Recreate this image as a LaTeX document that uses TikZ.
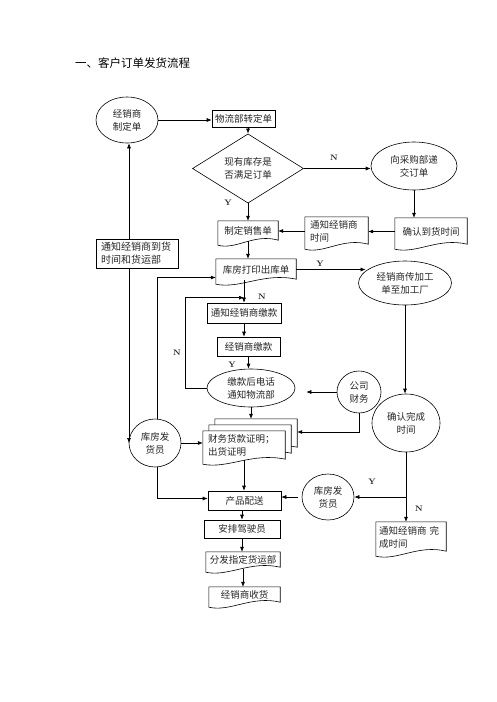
\documentclass[tikz,border=0pt]{standalone}
\usepackage{fontspec}
\newfontfamily\cjk{Noto Sans CJK SC}
\usetikzlibrary{arrows.meta,shapes.geometric,calc}
\pgfdeclarelayer{bg}
\pgfsetlayers{bg,main}
\newcommand\mydocshape[3]{%
 \draw[ln, fill=white] ($(#1.south west)+(#2,#3+4)$) -- ($(#1.north west)+(#2,#3)$) -- ($(#1.north east)+(#2,#3)$) -- ($(#1.south east)+(#2,#3-1)$) .. controls ($(#1.south east)!0.4!(#1.south west)+(#2,#3-8)$) and ($(#1.south east)!0.7!(#1.south west)+(#2,#3+9)$) .. ($(#1.south west)+(#2,#3+4)$) -- cycle;}
\begin{document}
\begin{tikzpicture}[x=1pt,y=-1pt,
  base/.style={font=\cjk\fontsize{9.5}{13}\selectfont, text=black!85, inner sep=0pt, align=center},
  box/.style={base, draw, line width=0.6pt},
  ell/.style={base, draw, ellipse, line width=0.6pt},
  lbox/.style={base, align=left, inner xsep=5pt},
  lab/.style={font=\fontsize{8}{8}\selectfont\bfseries, inner sep=0pt, text=black!85},
  arr/.style={-{Latex[length=5pt,width=4pt]}, line width=0.6pt},
  ln/.style={line width=0.6pt}]
\useasboundingbox (0,0) rectangle (496,702);

\node[font=\cjk\fontsize{11.5}{12}\selectfont, anchor=west, inner sep=0pt] (title) at (75,63) {一、客户订单发货流程};

% nodes
\node[ell, minimum width=62pt, minimum height=46pt] (e1) at (127,120) {经销商\\制定单};
\node[box, minimum width=63pt, minimum height=17pt] (b1) at (243.5,118.5) {物流部转定单};
\node[base, draw, diamond, line width=0.6pt, minimum width=111pt, minimum height=57pt] (d1) at (248,168.5) {现有库存是\\否满足订单};
\node[ell, minimum width=86pt, minimum height=48pt] (e2) at (414,166) {向采购部递\\交订单};

\node[base, minimum width=60pt, minimum height=20pt] (doc1) at (248,231) {制定销售单};
\node[lbox, text width=53pt, minimum height=28pt] (doc2) at (336.5,231) {通知经销商\\时间};
\node[base, minimum width=72pt, minimum height=27pt] (doc3) at (431,231.5) {确认到货时间};

\node[lbox, draw, line width=0.6pt, text width=72pt, inner xsep=5pt, minimum height=29pt] (b2) at (137,253.5) {\fontsize{10}{14}\selectfont 通知经销商到货\\\fontsize{10}{14}\selectfont 时间和货运部};
\node[base, minimum width=80pt, minimum height=21pt] (doc4) at (256,269.5) {库房打印出库单};
\node[ell, minimum width=93pt, minimum height=44pt] (e3) at (405,283) {经销商传加工\\单至加工厂};

\node[box, minimum width=74pt, minimum height=20pt] (b3) at (244,313) {通知经销商缴款};
\node[box, minimum width=63pt, minimum height=19pt] (b4) at (248.5,346.5) {经销商缴款};
\node[ell, minimum width=88pt, minimum height=38pt] (e4) at (251,388) {缴款后电话\\通知物流部};
\node[ell, minimum width=44pt, minimum height=42pt] (c1) at (359,392) {公司\\财务};
\node[ell, minimum width=68pt, minimum height=58pt] (e5) at (406,423) {确认完成\\时间};

\node[lbox, text width=72pt, minimum height=29pt] (st) at (244,445.5) {财务货款证明；\\出货证明};
\node[ell, minimum width=52pt, minimum height=48pt] (c2) at (155,443) {库房发\\货员};

\node[box, minimum width=73pt, minimum height=19pt] (b5) at (244.5,500.5) {产品配送};
\node[ell, minimum width=52pt, minimum height=46pt] (c3) at (328,497) {库房发\\货员};
\node[lbox, text width=64pt, inner xsep=3pt, minimum height=30pt] (doc5) at (411,537) {通知经销商 完\\成时间};
\node[box, minimum width=76pt, minimum height=18pt] (b6) at (242,529) {安排驾驶员};
\node[base, minimum width=74pt, minimum height=16pt] (doc6) at (243,560) {分发指定货运部};
\node[base, minimum width=71pt, minimum height=16pt] (doc7) at (244.5,595) {经销商收货};

% background and document outlines
\begin{pgfonlayer}{bg}
\fill[white] (0,0) rectangle (496,702);
\mydocshape{doc1}{0}{0}
\mydocshape{doc2}{0}{0}
\mydocshape{doc3}{0}{0}
\mydocshape{doc4}{0}{0}
\mydocshape{st}{12}{-12}
\mydocshape{st}{6}{-6}
\mydocshape{st}{0}{0}
\mydocshape{doc5}{0}{0}
\mydocshape{doc6}{0}{0}
\mydocshape{doc7}{0}{0}
\end{pgfonlayer}

% connectors
\draw[arr] (e1.east) -- (e1.east -| b1.west);
\draw[arr] (b1.south -| d1.north) -- (d1.north);
\draw[arr] (d1.east) -- (d1.east -| e2.west);
\node[lab] (lN1) at (334,158) {N};
\draw[arr] (d1.south) -- (d1.south |- doc1.north);
\node[lab] (lY1) at (228,203) {Y};
\draw[arr] (e2.south) -- (e2.south |- doc3.north);
\draw[arr] (doc3.west) -- (doc3.west -| doc2.east);
\draw[arr] (doc2.west) -- (doc2.west -| doc1.east);
\draw[arr] (doc1.south) -- (doc1.south |- doc4.north);

\draw[arr] ([xshift=-8pt]b2.north) -- ([xshift=-8pt]b2.north |- e1.south);
\draw[arr] ([xshift=-8pt]b2.south) -- ([xshift=-8pt]b2.south |- c2.west);
\draw[arr] ([xshift=2pt]c2.north) |- ([yshift=-8pt]doc4.west);

\draw[arr] (doc4.east) -- (doc4.east -| e3.163);
\node[lab] (lY2) at (320,264) {Y};
\draw[arr] (b3.north |- doc4.south) -- (b3.north);
\node[lab] (lN2) at (262,297) {N};
\coordinate (j1) at ($(b3.north)+(0,-5)$);
\draw[arr] (e4.west) -- ++(-21,0) |- (j1);
\node[lab] (lN3) at (177,353) {N};
\draw[arr] (b3.south) -- (b3.south |- b4.north);
\draw[arr] (b4.south) -- (b4.south |- e4.north);
\node[lab] (lY3) at (232,365) {Y};
\draw[arr, shorten >=11pt] (c1.west) -- (c1.west -| e4.east);
\coordinate (stR) at ($(st.east)+(12,-13.5)$);
\draw[arr] (c1.south) |- (stR);
\coordinate (sttop) at ($(st.north)+(0,-12)$);
\draw[arr] (e4.south) -- (e4.south |- sttop);
\draw[arr] (c2.east) -- (c2.east -| st.west);
\draw[arr] ([xshift=2pt]c2.south) |- ([yshift=2pt]b5.west);
\draw[arr] (st.south) -- (st.south |- b5.north);

\draw[arr] (e3.south) -- (e3.south |- e5.north);
\coordinate (sp) at (e5.south |- c3.east);
\draw[ln] (e5.south) -- (sp);
\draw[arr] (sp) -- (c3.east);
\draw[arr] (sp) -- (sp |- doc5.north);
\node[lab] (lY4) at (372,482) {Y};
\node[lab] (lN4) at (419,509) {N};
\draw[arr, shorten <=4pt] (c3.west) -- (c3.west -| b5.east);

\draw[arr] (b6.north |- b5.south) -- (b6.north);
\draw[arr] (b6.south) -- (b6.south |- doc6.north);
\draw[arr] ([yshift=-1pt]doc6.south) -- (doc6.south |- doc7.north);
\end{tikzpicture}
\end{document}
